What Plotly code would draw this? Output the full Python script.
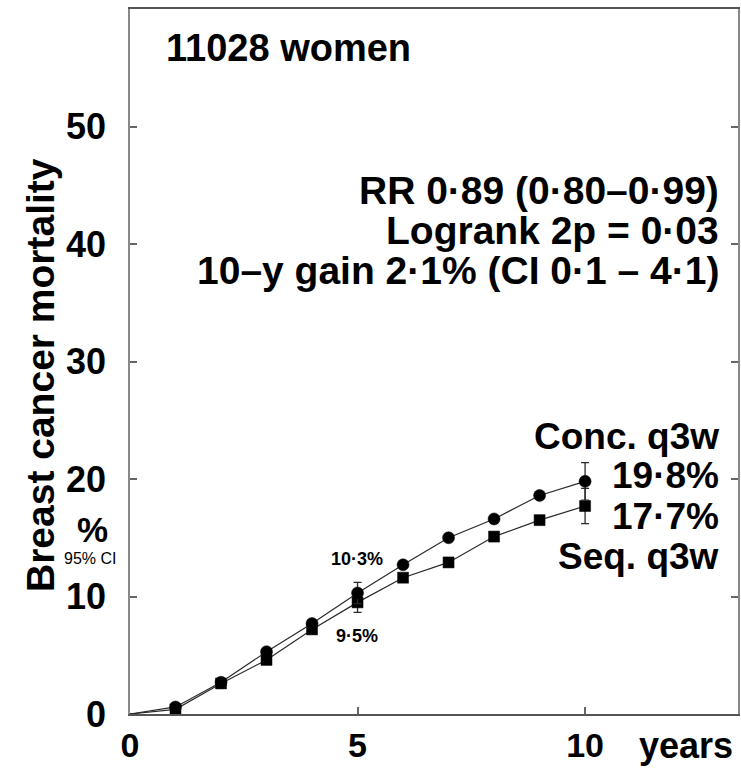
import plotly.graph_objects as go

years = [0, 1, 2, 3, 4, 5, 6, 7, 8, 9, 10]
conc = [0, 0.6, 2.7, 5.3, 7.7, 10.3, 12.7, 15.0, 16.6, 18.6, 19.8]
seq = [0, 0.4, 2.6, 4.6, 7.2, 9.5, 11.6, 12.9, 15.1, 16.5, 17.7]
conc_err = [0, 0, 0, 0, 0, 0.9, 0, 0, 0, 0, 1.6]
seq_err = [0, 0, 0, 0, 0, 0.85, 0, 0, 0, 0, 1.5]

FONT = "Liberation Sans"
BIG = 39

fig = go.Figure()


def add_series(y, err, symbol, size):
    sizes = [0 if x == 0 else size for x in years]
    fig.add_trace(go.Scatter(
        x=years, y=y, mode="lines+markers",
        line=dict(color="#2a2a2a", width=1.2),
        marker=dict(symbol=symbol, size=sizes, color="black", opacity=1,
                    line=dict(color="black", width=0.5)),
        error_y=dict(type="data", array=err, visible=True,
                     color="#2a2a2a", thickness=1.3, width=4),
        showlegend=False,
    ))


add_series(seq, seq_err, "square", 11)
add_series(conc, conc_err, "circle", 12)

fig.update_xaxes(
    range=[0, 13.36], tickvals=[0, 5, 10], ticktext=["0", "5", "10"],
    ticks="inside", ticklen=7, tickcolor="#666666", tickwidth=1.5,
    showline=True, linecolor="#555555", linewidth=1.5, mirror=True,
    showgrid=False, zeroline=False, ticklabelstandoff=0, automargin=False,
    tickfont=dict(family=FONT, size=34, color="black", weight="bold"),
)
fig.update_yaxes(
    range=[0, 60], tickvals=[0, 10, 20, 30, 40, 50],
    ticks="inside", ticklen=7, tickcolor="#666666", tickwidth=1.5,
    showline=True, linecolor="#888888", linewidth=1.5, mirror="ticks",
    showgrid=False, zeroline=False, ticklabelstandoff=15, automargin=False,
    tickfont=dict(family=FONT, size=36, color="black", weight="bold"),
)

W, H = 741, 768
L, R, T, B = 130, 3, 9, 54
pw, ph = W - L - R, H - T - B


def px(x):
    return (x - L) / pw


def py(y):
    return (H - B - y) / ph


def ann(text, x, y, size=BIG, xanchor="center", weight="bold", angle=0):
    fig.add_annotation(text=text, x=px(x), y=py(y), xref="paper", yref="paper",
                       showarrow=False, xanchor=xanchor, yanchor="middle",
                       textangle=angle,
                       font=dict(family=FONT, size=size, color="black", weight=weight))


ann("11028 women", 164, 48, size=38, xanchor="left")
ann("RR 0·89 (0·80–0·99)", 721, 190, xanchor="right")
ann("Logrank 2p = 0·03", 721, 230, xanchor="right")
ann("10–y gain 2·1% (CI 0·1 – 4·1)", 721, 270, xanchor="right")
ann("Conc. q3w", 721, 436, size=37, xanchor="right")
ann("19·8%", 721, 475, size=37, xanchor="right")
ann("17·7%", 721, 516, size=37, xanchor="right")
ann("Seq. q3w", 721, 556, size=37, xanchor="right")
ann("10·3%", 357, 559, size=18)
ann("9·5%", 357, 636, size=18)
ann("years", 686, 745, size=36)
ann("Breast cancer mortality", 40, 375, size=BIG, angle=-90)
ann("%", 92, 529, size=35)
ann("95% CI", 90, 558, size=16, weight="normal")

fig.update_layout(
    width=W, height=H,
    margin=dict(l=L, r=R, t=T, b=B, pad=0, autoexpand=False),
    plot_bgcolor="white", paper_bgcolor="white",
)
fig.write_html("out.html")
